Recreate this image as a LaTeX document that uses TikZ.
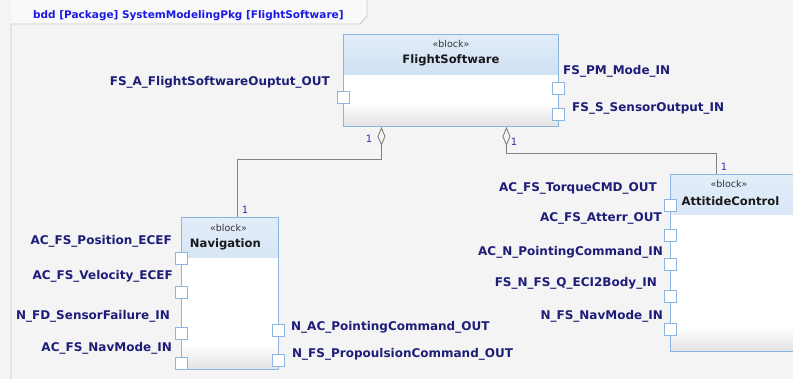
\documentclass[tikz,border=0pt]{standalone}
\usepackage{fontspec}
\setmainfont{DejaVu Sans}
\usepackage{xcolor}
\usepackage{tikz}
\usetikzlibrary{arrows.meta,positioning,calc}
\definecolor{bggray}{HTML}{F4F4F4}
\definecolor{tabfill}{HTML}{F9F9F9}
\definecolor{frameline}{HTML}{CACACA}
\definecolor{blockedge}{HTML}{8CB6E2}
\definecolor{hdtop}{HTML}{E2EDF9}
\definecolor{hdbot}{HTML}{B9D1EC}
\definecolor{bodybot}{HTML}{E2E2E2}
\definecolor{labnavy}{HTML}{1E1E78}
\definecolor{titleblue}{HTML}{1A1AE6}
\definecolor{multblue}{HTML}{2E2EB0}
\definecolor{linkgray}{HTML}{808080}

\begin{document}
\begin{tikzpicture}[x=1pt,y=-1pt,
   block/.style 2 args={draw=blockedge,line width=0.9pt,fill=white,anchor=north west,
               inner sep=0pt,minimum width=#1,minimum height=#2,
               path picture={
                 \fill[top color=hdtop,bottom color=hdbot] (path picture bounding box.north west)
                    rectangle ([yshift=-40pt]path picture bounding box.north east);
                 \fill[top color=white,bottom color=bodybot] ([yshift=24pt]path picture bounding box.south west)
                    rectangle (path picture bounding box.south east);}},
   port/.style={draw=blockedge,fill=white,line width=0.9pt,minimum size=12pt,inner sep=0pt},
   plabel/.style={font=\fontsize{12}{14}\selectfont\bfseries,text=labnavy,inner sep=0pt},
   stereo/.style={font=\fontsize{9.5}{11}\selectfont,text=black!80,inner sep=0pt},
   blkname/.style={font=\fontsize{11.6}{13}\selectfont\bfseries,text=black!90,inner sep=0pt},
   mult/.style={font=\fontsize{10}{12}\selectfont,text=multblue,inner sep=0pt},
   link/.style={draw=linkgray,line width=0.9pt},
   aggr/.style={{Diamond[open,length=19pt,width=8pt]}-}]
  \useasboundingbox (0,0) rectangle (793,379);
  \fill[bggray] (0,0) rectangle (793,379);
  \clip (0,0) rectangle (793,379);
  \fill[tabfill] (11,0) -- (11,24) -- (360,24) -- (367,16) -- (367,0) -- cycle;
  \draw[frameline,line width=0.9pt] (11,379) -- (11,24) -- (360,24) -- (367,16) -- (367,0);
  \node[font=\fontsize{10.5}{12}\selectfont\bfseries,text=titleblue,inner sep=0pt,anchor=base west]
     (diagtitle) at (33,19) {bdd [Package] SystemModelingPkg [FlightSoftware]};

  \node[block={215pt}{92pt}] (fs) at (343,34) {};
  \node[stereo] (fsst) at ([yshift=-10pt]fs.north) {«block»};
  \node[blkname] (fsnm) at ([yshift=-26pt]fs.north) {FlightSoftware};

  \node[block={97pt}{152pt}] (nav) at (181,217) {};
  \node[stereo] (navst) at ([xshift=-1.5pt,yshift=-11pt]nav.north) {«block»};
  \node[blkname] (navnm) at ([xshift=-4.5pt,yshift=-27pt]nav.north) {Navigation};

  \node[block={140pt}{177pt}] (ac) at (670,174) {};
  \node[stereo] (acst) at ([xshift=59pt,yshift=-10pt]ac.north west) {«block»};
  \node[blkname] (acnm) at ([xshift=60.5pt,yshift=-27pt]ac.north west) {AttitideControl};

  \draw[link,aggr] ([xshift=-69.5pt]fs.south) -- ++(0,33) -| ([xshift=7.5pt]nav.north);
  \draw[link,aggr] ([xshift=55.5pt]fs.south) -- ++(0,27) -| ([xshift=46pt]ac.north west);
  \node[mult] (m1) at (369,139) {1};
  \node[mult] (m2) at (245,210) {1};
  \node[mult] (m3) at (514,142) {1};
  \node[mult] (m4) at (724,167) {1};

  \node[port] (fsOut) at (fs.west |- 0,97) {};
  \node[port] (fsPM) at (fs.east |- 0,88) {};
  \node[port] (fsSens) at (fs.east |- 0,114) {};
  \node[plabel,anchor=base east] (lfsOut) at (330,86) {FS\_A\_FlightSoftwareOuptut\_OUT};
  \node[plabel,anchor=base west] (lfsPM) at (563,75) {FS\_PM\_Mode\_IN};
  \node[plabel,anchor=base west] (lfsSens) at (572,112) {FS\_S\_SensorOutput\_IN};

  \node[port] (navPos) at (nav.west |- 0,258) {};
  \node[port] (navVel) at (nav.west |- 0,292) {};
  \node[port] (navFail) at (nav.west |- 0,333) {};
  \node[port] (navMode) at (nav.west |- 0,363) {};
  \node[port] (navPoint) at (nav.east |- 0,330) {};
  \node[port] (navProp) at (nav.east |- 0,360) {};
  \node[plabel,anchor=base east] (lnavPos) at (172,245) {AC\_FS\_Position\_ECEF};
  \node[plabel,anchor=base east] (lnavVel) at (173,280) {AC\_FS\_Velocity\_ECEF};
  \node[plabel,anchor=base east] (lnavFail) at (170,320) {N\_FD\_SensorFailure\_IN};
  \node[plabel,anchor=base east] (lnavMode) at (172,352) {AC\_FS\_NavMode\_IN};
  \node[plabel,anchor=base west] (lnavPoint) at (291,331) {N\_AC\_PointingCommand\_OUT};
  \node[plabel,anchor=base west] (lnavProp) at (292,358) {N\_FS\_PropoulsionCommand\_OUT};

  \node[port] (acTorque) at (ac.west |- 0,205.5) {};
  \node[port] (acAtt) at (ac.west |- 0,235.5) {};
  \node[port] (acPoint) at (ac.west |- 0,264.5) {};
  \node[port] (acQ) at (ac.west |- 0,296) {};
  \node[port] (acMode) at (ac.west |- 0,329) {};
  \node[plabel,anchor=base east] (lacTorque) at (657,192) {AC\_FS\_TorqueCMD\_OUT};
  \node[plabel,anchor=base east] (lacAtt) at (662,222) {AC\_FS\_Atterr\_OUT};
  \node[plabel,anchor=base east] (lacPoint) at (663,256) {AC\_N\_PointingCommand\_IN};
  \node[plabel,anchor=base east] (lacQ) at (657,287) {FS\_N\_FS\_Q\_ECI2Body\_IN};
  \node[plabel,anchor=base east] (lacMode) at (663,320) {N\_FS\_NavMode\_IN};
\end{tikzpicture}
\end{document}
